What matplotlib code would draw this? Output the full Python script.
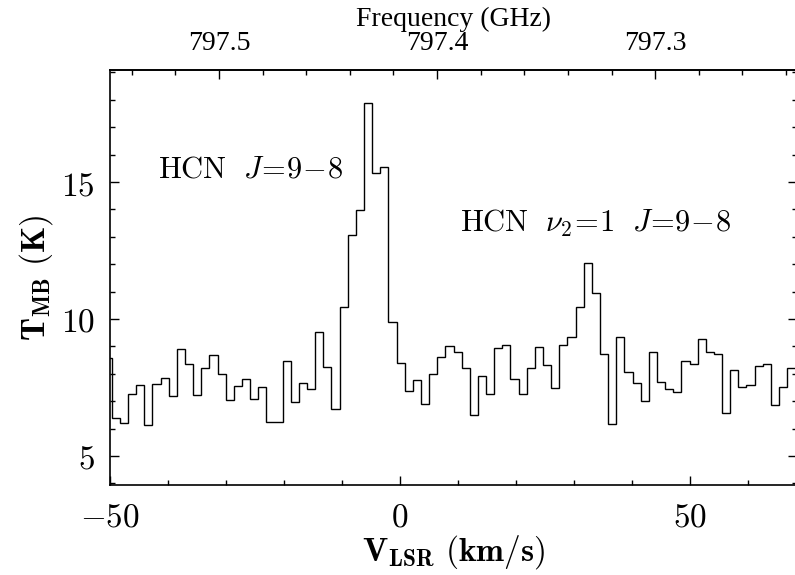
import numpy as np
import matplotlib
matplotlib.use("Agg")
import matplotlib.pyplot as plt
from matplotlib.ticker import MultipleLocator, FixedLocator, FuncFormatter, FormatStrFormatter

plt.rcParams['mathtext.fontset'] = 'cm'

# spectrum: channel width and left edge of first channel (km/s)
v_start = -51.1
chan_width = 1.403
# antenna temperature per channel (K)
t_mb = [8.57, 6.38, 6.22, 7.27, 7.60, 6.12, 7.64, 7.84, 7.19, 8.92,
        8.35, 7.21, 8.22, 8.67, 8.00, 7.03, 7.55, 7.80, 7.07, 7.52,
        6.23, 6.25, 8.46, 6.97, 7.65, 7.43, 9.51, 8.24, 6.73, 10.45,
        13.05, 13.98, 17.87, 15.33, 15.54, 9.88, 8.41, 7.36, 7.77, 6.91,
        7.99, 8.62, 9.01, 8.80, 8.21, 6.49, 7.92, 7.26, 8.93, 9.04,
        7.82, 7.27, 8.22, 8.99, 8.32, 7.49, 9.06, 9.35, 10.45, 12.03,
        10.96, 8.71, 6.17, 9.35, 8.08, 7.65, 7.02, 8.78, 7.69, 7.45,
        7.32, 8.48, 8.35, 9.27, 8.78, 8.73, 6.56, 8.15, 7.53, 7.58,
        8.28, 8.37, 6.86, 7.51, 8.20]

freq_ticks = [797.5, 797.4, 797.3]
f0 = 797.417  # GHz, frequency at v=0
c_kms = 299792.458

def v2f(v):
    return f0 * (1 - np.asarray(v) / c_kms)

def f2v(f):
    return c_kms * (1 - np.asarray(f) / f0)

edges = v_start + chan_width * np.arange(len(t_mb) + 1)

fig = plt.figure(figsize=(7.95, 5.75), dpi=100)
ax = fig.add_axes([110/795, 90/575, 687/795, 415/575])
ax.stairs(t_mb, edges, baseline=None, color='black', lw=1.0)

ax.set_xlim(-50, 68.45)
ax.set_ylim(3.94, 19.09)

ax.xaxis.set_major_locator(MultipleLocator(50))
ax.xaxis.set_minor_locator(MultipleLocator(10))
ax.yaxis.set_major_locator(MultipleLocator(5))
ax.yaxis.set_minor_locator(MultipleLocator(1))
fmt = FuncFormatter(lambda x, p: r'$%g$' % x)
ax.xaxis.set_major_formatter(fmt)
ax.yaxis.set_major_formatter(fmt)
ax.tick_params(which='both', direction='in', top=False, right=True, width=1.0)
ax.tick_params(which='major', length=6.5, labelsize=24)
ax.tick_params(which='minor', length=3.5)
ax.tick_params(axis='x', which='major', pad=11)
ax.tick_params(axis='y', which='major', pad=11)
for s in ax.spines.values():
    s.set_linewidth(1.2)

ax.set_xlabel(r'$\mathbf{V_{LSR}\ (km/s)}$', fontsize=24, labelpad=0)
ax.set_ylabel(r'$\mathbf{T_{MB}\ (K)}$', fontsize=24, labelpad=4)

secax = ax.secondary_xaxis('top', functions=(v2f, f2v))
secax.xaxis.set_major_locator(FixedLocator(freq_ticks))
secax.xaxis.set_minor_locator(MultipleLocator(0.02))
secax.xaxis.set_major_formatter(FormatStrFormatter('%.1f'))
secax.tick_params(which='both', direction='in', width=1.0,
                  labelsize=20, labelfontfamily='Liberation Serif', pad=10)
secax.tick_params(which='major', length=6.5)
secax.tick_params(which='minor', length=3.5)
secax.spines['top'].set_linewidth(1.2)
secax.set_xlabel('Frequency (GHz)', fontsize=20, family='Liberation Serif', labelpad=4)

ax.text(-41.7, 15.18, r'$\mathrm{HCN}\ \ J\!=\!9\!-\!8$', fontsize=22, va='baseline')
ax.text(10.3, 13.18, r'$\mathrm{HCN}\ \ \nu_2\!=\!1\ \ J\!=\!9\!-\!8$', fontsize=22, va='baseline')

fig.savefig('out.png', dpi=100)
